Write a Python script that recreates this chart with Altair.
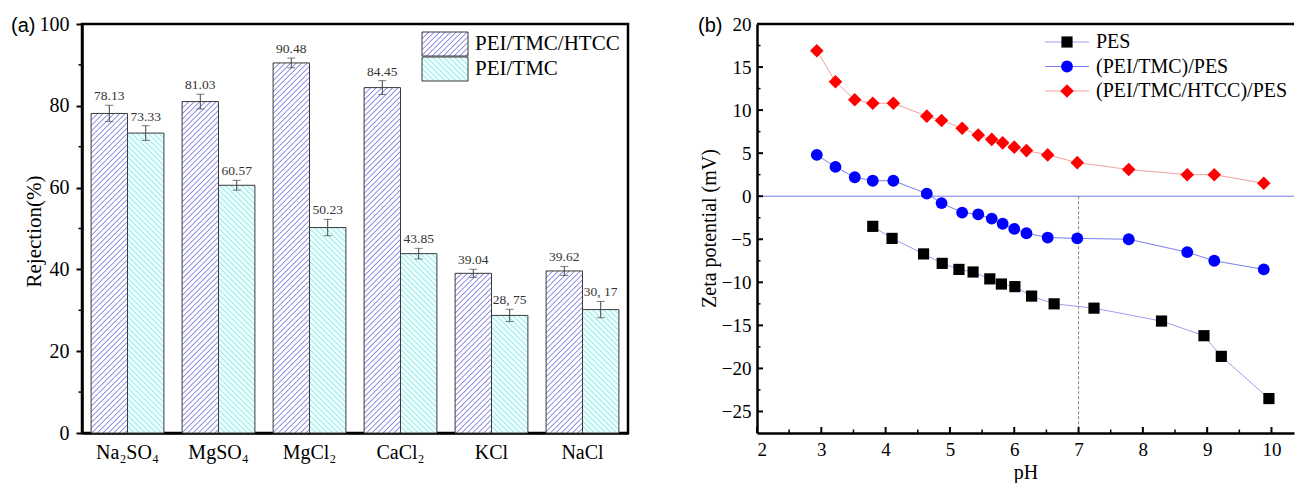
import altair as alt
import pandas as pd

# ---------------- panel (a) data ----------------
salts = ["Na₂SO₄", "MgSO₄", "MgCl₂", "CaCl₂", "KCl", "NaCl"]
membranes = ["PEI/TMC/HTCC", "PEI/TMC"]
rej_htcc = [78.13, 81.03, 90.48, 84.45, 39.04, 39.62]
rej_tmc = [73.33, 60.57, 50.23, 43.85, 28.75, 30.17]
err_htcc = [2.0, 1.8, 1.2, 1.7, 1.0, 1.1]
err_tmc = [1.8, 1.2, 2.0, 1.3, 1.5, 2.0]
lbl_htcc = ["78.13", "81.03", "90.48", "84.45", "39.04", "39.62"]
lbl_tmc = ["73.33", "60.57", "50.23", "43.85", "28, 75", "30, 17"]
left_y_ticks = [0, 20, 40, 60, 80, 100]
left_y_minor = [10, 30, 50, 70, 90]

# ---------------- panel (b) data ----------------
series_names = ["PES", "(PEI/TMC)/PES", "(PEI/TMC/HTCC)/PES"]
ph_pes = [3.80, 4.10, 4.59, 4.88, 5.14, 5.36, 5.62, 5.80, 6.01, 6.27, 6.62, 7.24, 8.29, 8.95, 9.22, 9.96]
zeta_pes = [-3.5, -4.9, -6.7, -7.8, -8.5, -8.8, -9.6, -10.2, -10.5, -11.6, -12.5, -13.0, -14.5, -16.2, -18.6, -23.5]
ph_coated = [2.93, 3.22, 3.52, 3.80, 4.12, 4.64, 4.87, 5.19, 5.44, 5.65, 5.82, 6.00, 6.19, 6.52, 6.98, 7.78, 8.69, 9.11, 9.88]
zeta_tmc = [4.8, 3.4, 2.2, 1.8, 1.8, 0.3, -0.8, -1.9, -2.1, -2.6, -3.2, -3.8, -4.3, -4.8, -4.9, -5.0, -6.5, -7.5, -8.5]
zeta_htcc = [16.9, 13.3, 11.2, 10.8, 10.8, 9.3, 8.8, 7.9, 7.1, 6.6, 6.2, 5.7, 5.3, 4.8, 3.9, 3.1, 2.5, 2.5, 1.5]
right_x_ticks = [2, 3, 4, 5, 6, 7, 8, 9, 10]
right_x_minor = [2.5, 3.5, 4.5, 5.5, 6.5, 7.5, 8.5, 9.5]
right_y_ticks = [-25, -20, -15, -10, -5, 0, 5, 10, 15, 20]
right_y_minor = [-22.5, -17.5, -12.5, -7.5, -2.5, 2.5, 7.5, 12.5, 17.5]

SERIF = "Liberation Serif"
SANS = "Liberation Sans"
W1, H, W2 = 546, 409, 537
STEP = W1 / 6.0
BAR_W = STEP * 0.8 / 2

PURPLE_LINE, PURPLE_BG = "#8080e0", "#ffffff"
CYAN_LINE, CYAN_BG = "#8ce8e8", "#eefefe"


def hatch(w, h, line, bg, forward, period=5.5):
    n = (w + h) / period
    k = (w + h) / (w * w + h * h)
    stops = []
    i = 0
    while i / n < 1:
        a = i / n
        b = min((i + 0.22) / n, 1.0)
        c = min((i + 0.45) / n, 1.0)
        stops += [(a, bg), (b, line), (c, bg)]
        i += 1
    stops.append((1.0, bg))
    if forward:
        x1, y1, x2, y2 = 0, 0, k * w, k * h
    else:
        x1, y1, x2, y2 = 0, 1, k * w, 1 - k * h
    return alt.LinearGradient(
        gradient="linear",
        stops=[alt.GradientStop(color=col, offset=round(o, 5)) for o, col in stops],
        x1=x1, y1=y1, x2=x2, y2=y2,
    )


rows = []
for i, s in enumerate(salts):
    rows.append(dict(idx=i, salt=s, membrane=membranes[0], value=rej_htcc[i], err=err_htcc[i], label=lbl_htcc[i]))
    rows.append(dict(idx=i, salt=s, membrane=membranes[1], value=rej_tmc[i], err=err_tmc[i], label=lbl_tmc[i]))
bars = pd.DataFrame(rows)
bars["lo"] = bars["value"] - bars["err"]
bars["hi"] = bars["value"] + bars["err"]

XA = alt.X("salt:N", scale=alt.Scale(domain=salts, paddingInner=0.2, paddingOuter=0.1),
           axis=alt.Axis(labelAngle=0, ticks=False, domainWidth=2.5, labelFontSize=20,
                         labelPadding=9, title=None))
XO = alt.XOffset("membrane:N", scale=alt.Scale(domain=membranes))
YA = alt.Y("value:Q", scale=alt.Scale(domain=[0, 100], nice=False),
           axis=alt.Axis(values=left_y_ticks, tickSize=6, tickWidth=2, domainWidth=2.5,
                         labelFontSize=20, labelPadding=7, title="Rejection(%)",
                         titleFontSize=21, titleX=-48, titleY=207, titleBaseline="middle",
                         titleAngle=270))

left_layers = []
for i, s in enumerate(salts):
    for m, vals, line, bg, fwd in [(membranes[0], rej_htcc, PURPLE_LINE, PURPLE_BG, True),
                                   (membranes[1], rej_tmc, CYAN_LINE, CYAN_BG, False)]:
        h = vals[i] * H / 100.0
        left_layers.append(
            alt.Chart(bars)
            .transform_filter((alt.datum.idx == i) & (alt.datum.membrane == m))
            .mark_bar(fill=hatch(BAR_W, h, line, bg, fwd), stroke="#3a3a3a", strokeWidth=1)
            .encode(x=XA, xOffset=XO, y=YA)
        )

err_rule = alt.Chart(bars).mark_rule(color="#444", strokeWidth=1).encode(
    x=XA, xOffset=XO, y=alt.Y("lo:Q"), y2="hi:Q")
cap_lo = alt.Chart(bars).mark_tick(color="#444", size=8, thickness=1).encode(
    x=XA, xOffset=XO, y=alt.Y("lo:Q"))
cap_hi = alt.Chart(bars).mark_tick(color="#444", size=8, thickness=1).encode(
    x=XA, xOffset=XO, y=alt.Y("hi:Q"))
val_text = alt.Chart(bars).mark_text(font=SERIF, fontSize=13.5, baseline="bottom", dy=-2,
                                     color="#333").encode(
    x=XA, xOffset=XO, y=alt.Y("hi:Q"), text="label:N")
minor_left = alt.Chart(pd.DataFrame({"value": left_y_minor})).mark_rule(
    color="black", strokeWidth=1.5).encode(y=alt.Y("value:Q"), x=alt.value(-3.5), x2=alt.value(0))

one = pd.DataFrame({"a": [0]})
leg_left = []
for j, (m, line, bg, fwd) in enumerate([(membranes[0], PURPLE_LINE, PURPLE_BG, True),
                                        (membranes[1], CYAN_LINE, CYAN_BG, False)]):
    y0 = 8 + j * 25
    leg_left.append(alt.Chart(one).mark_rect(fill=hatch(46, 24, line, bg, fwd), stroke="#3a3a3a",
                                             strokeWidth=1).encode(
        x=alt.value(340), x2=alt.value(386), y=alt.value(y0), y2=alt.value(y0 + 24)))
    leg_left.append(alt.Chart(one).mark_text(font=SERIF, fontSize=21, align="left",
                                             baseline="middle", text=m).encode(
        x=alt.value(393), y=alt.value(y0 + 12)))

tag_a = alt.Chart(one).mark_text(font=SANS, fontSize=20, align="left", baseline="top",
                                 text="(a)").encode(x=alt.value(-71), y=alt.value(-8))

left = alt.layer(*left_layers, err_rule, cap_lo, cap_hi, val_text, minor_left, *leg_left, tag_a).properties(
    width=W1, height=H, view=alt.ViewBackground(stroke="black", strokeWidth=2.5))

# ---------------- panel (b) ----------------
XB = alt.X("ph:Q", scale=alt.Scale(domain=[2, 10.35], nice=False, zero=False),
           axis=alt.Axis(values=right_x_ticks, tickSize=0, domainWidth=2.5, labelFontSize=19,
                         labelPadding=7, title="pH", titleFontSize=20, titlePadding=3))
YB = alt.Y("zeta:Q", scale=alt.Scale(domain=[-27.5, 20], nice=False, zero=False),
           axis=alt.Axis(values=right_y_ticks, tickSize=0, domainWidth=2.5, labelFontSize=19,
                         labelPadding=6, title="Zeta potential (mV)", titleFontSize=20,
                         titleX=-48, titleY=204, titleBaseline="middle", titleAngle=270))

zero_line = alt.Chart(pd.DataFrame({"zeta": [0]})).mark_rule(color="#7878f2", strokeWidth=1).encode(
    y=YB, x=alt.value(0), x2=alt.value(W2))
dash7 = alt.Chart(pd.DataFrame({"ph": [7], "zeta": [0]})).mark_rule(
    color="#666", strokeWidth=0.8, strokeDash=[3, 2]).encode(x=XB, y=YB, y2=alt.value(H))
top_border = alt.Chart(one).mark_rule(color="black", strokeWidth=2.5).encode(
    y=alt.value(0), x=alt.value(0), x2=alt.value(W2))

tick_layers = [
    alt.Chart(pd.DataFrame({"ph": right_x_ticks})).mark_rule(color="black", strokeWidth=2).encode(
        x=XB, y=alt.value(H), y2=alt.value(H - 6)),
    alt.Chart(pd.DataFrame({"ph": right_x_minor})).mark_rule(color="black", strokeWidth=1.5).encode(
        x=XB, y=alt.value(H), y2=alt.value(H - 3.5)),
    alt.Chart(pd.DataFrame({"zeta": right_y_ticks})).mark_rule(color="black", strokeWidth=2).encode(
        y=YB, x=alt.value(0), x2=alt.value(6)),
    alt.Chart(pd.DataFrame({"zeta": right_y_minor})).mark_rule(color="black", strokeWidth=1.5).encode(
        y=YB, x=alt.value(0), x2=alt.value(3.5)),
]

series = [
    (series_names[0], ph_pes, zeta_pes, "#9e9ef0", "black", "square", 125),
    (series_names[1], ph_coated, zeta_tmc, "#7c7cf0", "#0000ff", "circle", 140),
    (series_names[2], ph_coated, zeta_htcc, "#f2a0a0", "#ff0000", "diamond", 185),
]
series_layers = []
leg_right = []
for j, (name, xs, ys, lcol, mcol, shape, size) in enumerate(series):
    d = pd.DataFrame({"ph": xs, "zeta": ys})
    series_layers.append(alt.Chart(d).mark_line(color=lcol, strokeWidth=1).encode(x=XB, y=YB))
    series_layers.append(alt.Chart(d).mark_point(shape=shape, size=size, filled=True, color=mcol,
                                                 opacity=1).encode(x=XB, y=YB))
    ry = 18 + j * 24.5
    leg_right.append(alt.Chart(one).mark_rule(color=lcol, strokeWidth=1).encode(
        x=alt.value(288), x2=alt.value(332), y=alt.value(ry)))
    leg_right.append(alt.Chart(one).mark_point(shape=shape, size=size, filled=True, color=mcol,
                                               opacity=1).encode(x=alt.value(310), y=alt.value(ry)))
    leg_right.append(alt.Chart(one).mark_text(font=SERIF, fontSize=20, align="left",
                                              baseline="middle", text=name).encode(
        x=alt.value(339), y=alt.value(ry)))

tag_b = alt.Chart(one).mark_text(font=SANS, fontSize=20, align="left", baseline="top",
                                 text="(b)").encode(x=alt.value(-59), y=alt.value(-8))

right = alt.layer(zero_line, dash7, *series_layers, *tick_layers, top_border, *leg_right, tag_b).properties(
    width=W2, height=H, view=alt.ViewBackground(stroke="transparent"))

chart = alt.hconcat(left, right, spacing=129, bounds="flush").properties(
    padding={"left": 9, "top": 12, "right": 0, "bottom": 0}
).configure_axis(
    grid=False, labelFont=SERIF, titleFont=SERIF, labelColor="black", titleColor="black",
    titleFontWeight="normal", domainColor="black", tickColor="black"
)

chart.save("out.html", embed_options={"renderer": "svg", "actions": False})
